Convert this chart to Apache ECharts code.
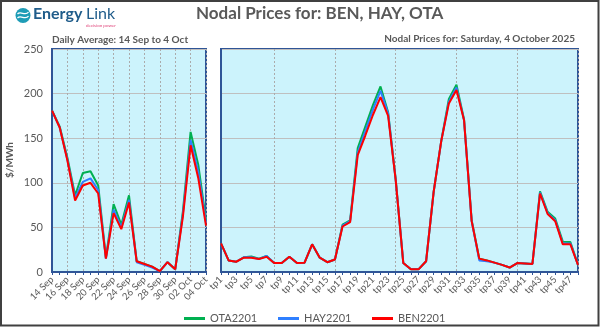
<!DOCTYPE html>
<html><head><meta charset="utf-8">
<script src="https://cdn.jsdelivr.net/npm/echarts@6/dist/echarts.min.js"></script>
<style>html,body{margin:0;padding:0;background:#fff}#c{width:600px;height:327px}</style>
</head><body><div id="c"></div>
<script>
const days = ['14 Sep','15 Sep','16 Sep','17 Sep','18 Sep','19 Sep','20 Sep','21 Sep','22 Sep','23 Sep','24 Sep','25 Sep','26 Sep','27 Sep','28 Sep','29 Sep','30 Sep','01 Oct','02 Oct','03 Oct','04 Oct'];
const dailyOTA = [181,163,128,86,111,113,97,16,76,53,86,12,9,6,1,11,3,68,157,120,58];
const dailyHAY = [181,162,126,83,101,105,92,15,70,50,81,11,8,5,1,11,3,65,148,112,55];
const dailyBEN = [181,162,125,80,97,100,88,15,66,48,78,12,9,6,1,11,3,62,142,105,52];

const periods = ['tp1','tp2','tp3','tp4','tp5','tp6','tp7','tp8','tp9','tp10','tp11','tp12','tp13','tp14','tp15','tp16','tp17','tp18','tp19','tp20','tp21','tp22','tp23','tp24','tp25','tp26','tp27','tp28','tp29','tp30','tp31','tp32','tp33','tp34','tp35','tp36','tp37','tp38','tp39','tp40','tp41','tp42','tp43','tp44','tp45','tp46','tp47','tp48'];
const tpOTA = [32,13,11.5,16.5,17.5,15,18,10,10,17,10,10.5,31,16,11,14,53,58,139,163,187,208,179,104,10,3,3,12,90,147,194,210,171,58,15,13,10.5,8,5,10,9.5,9,90.5,67.5,60,34,33.5,8];
const tpHAY = [32,13,11.5,16.5,16.5,14.5,18,10,10,17,10,10.5,31,16,11,14,52,57,134,158,182,203,178,103,10,3,3,12,90,147,191,207,170,57,13,12,10.5,8,5,10,9.5,9,89,66,58,32,32,8];
const tpBEN = [32,13,11.5,16,16,14.5,17,10,10,17,10,10.5,31,16,11,14,51,56,131,153,176,196,175,103,10,3,3,12,90,147,189,204,170,57,15,13,10.5,8,5,10,9.5,9,88,65,57,31,31,8];

const yTicks = [0,50,100,150,200,250];
const names = ['OTA2201','HAY2201','BEN2201'];
const colors = ['#00B050','#2F7FFF','#FF0000'];

const txt = '#595959', navy = '#2F5597', font = 'Lato';
const chart = echarts.init(document.getElementById('c'));
function xAx(gi, data, splitFn){
  return {type:'category', gridIndex:gi, data:data, boundaryGap:false,
    axisLine:{show:true, lineStyle:{color:navy, width:2}},
    axisTick:{show:true, interval:0, length:3, lineStyle:{color:navy}},
    axisLabel:{interval:(i)=>i%2===0, rotate:45, color:txt, fontSize:9.5, fontFamily:font, margin:6},
    splitLine:{show:true, interval:splitFn, lineStyle:{color:'#ABABAB', type:[2,2], width:1}}};
}
function yAx(gi, showLabels){
  return {type:'value', gridIndex:gi, min:yTicks[0], max:yTicks[yTicks.length-1], interval:50,
    axisLine:{show:true, lineStyle:{color:navy, width:2}}, axisTick:{show:false},
    axisLabel:{show:showLabels, color:txt, fontSize:11, fontFamily:font, margin:9},
    splitLine:{show:true, lineStyle:{color:'#BFBFBF', width:1}}};
}
const series = [];
[[dailyOTA,tpOTA],[dailyHAY,tpHAY],[dailyBEN,tpBEN]].forEach((pair,k)=>{
  series.push({name:names[k], type:'line', xAxisIndex:0, yAxisIndex:0, data:pair[0], symbol:'none', lineStyle:{width:2, color:colors[k]}, itemStyle:{color:colors[k]}, z:2+k});
  series.push({name:names[k], type:'line', xAxisIndex:1, yAxisIndex:1, data:pair[1], symbol:'none', lineStyle:{width:2, color:colors[k]}, itemStyle:{color:colors[k]}, z:2+k});
});
const legends = names.map((n,k)=>({data:[n], left:[179,273,367][k], top:308, icon:'rect', itemWidth:21, itemHeight:3, itemGap:4,
  textStyle:{color:txt, fontSize:11, fontFamily:font}}));
chart.setOption({
  animation:false,
  textStyle:{fontFamily:font},
  legend:legends,
  grid:[
    {left:52, top:49, width:154, height:223, show:true, backgroundColor:'#CCF3FC', borderColor:navy, borderWidth:2},
    {left:221, top:49, width:357, height:223, show:true, backgroundColor:'#CCF3FC', borderColor:navy, borderWidth:2}
  ],
  xAxis:[xAx(0, days, (i)=>i%2===0), xAx(1, periods, (i)=>(i+1)%8===0)],
  yAxis:[yAx(0,true), yAx(1,false)],
  series:series,
  graphic:[
    {type:'rect', shape:{x:1,y:1,width:597.5,height:324.5}, style:{fill:'none', stroke:'#404040', lineWidth:2}, z:100},
    {type:'circle', shape:{cx:23, cy:15.5, r:7.5}, style:{fill:'#1E9CB6'}},
    {type:'bezierCurve', shape:{x1:17.5,y1:14,cpx1:20.5,cpy1:10.5,cpx2:25.5,cpy2:16.5,x2:28.5,y2:12}, style:{fill:'none', stroke:'#fff', lineWidth:1.3}},
    {type:'bezierCurve', shape:{x1:17.5,y1:18,cpx1:20.5,cpy1:14.5,cpx2:25.5,cpy2:20.5,x2:28.5,y2:16}, style:{fill:'none', stroke:'#fff', lineWidth:1.3}},
    {type:'text', left:33, top:6, style:{text:'Energy', fill:'#1F5C8A', font:'bold 16px '+font}},
    {type:'text', left:86, top:6, style:{text:'Link', fill:'#1F5C8A', font:'16px '+font}},
    {type:'text', left:86, top:23, style:{text:'decision power', fill:'#E0457B', font:'4.5px '+font}},
    {type:'text', left:196, top:5, style:{text:'Nodal Prices for: BEN, HAY, OTA', fill:txt, font:'bold 17px '+font}},
    {type:'text', left:52, top:35, style:{text:'Daily Average: 14 Sep to 4 Oct', fill:txt, font:'bold 10px '+font}},
    {type:'text', right:25, top:34, style:{text:'Nodal Prices for: Saturday, 4 October 2025', fill:txt, font:'bold 10px '+font}},
    {type:'text', x:10, y:160, rotation:Math.PI/2, style:{text:'$/MWh', fill:txt, font:'bold 10px '+font, align:'center', verticalAlign:'middle'}}
  ]
});
</script></body></html>
